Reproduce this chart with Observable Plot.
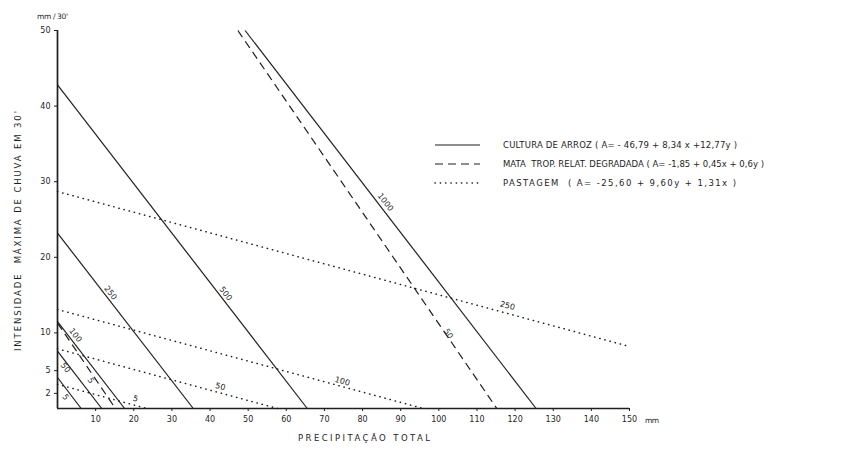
<!DOCTYPE html>
<html>
<head>
<meta charset="utf-8">
<script src="https://cdn.jsdelivr.net/npm/d3@7"></script>
<script src="https://cdn.jsdelivr.net/npm/@observablehq/plot@0.6"></script>
<style>
  html, body { margin: 0; padding: 0; background: #fff; }
  #chart { position: relative; width: 850px; height: 455px; }
</style>
</head>
<body>
<div id="chart"></div>
<script>
// ---- data ----
const xTicks = [10, 20, 30, 40, 50, 60, 70, 80, 90, 100, 110, 120, 130, 140, 150];
const yTicks = [2, 5, 10, 20, 30, 40, 50];

// Cultura de arroz (solid)
const arrozA      = [5, 50, 100, 250, 500, 1000];
const arrozStartX = [0, 0, 0, 0, 0, 49.2];
const arrozStartY = [4.1, 7.6, 11.5, 23.2, 42.8, 50];
const arrozEndX   = [6.2, 11.6, 17.6, 35.6, 65.5, 125.5];
const arrozEndY   = [0, 0, 0, 0, 0, 0];
const arrozLabelX = [2.1, 2.1, 4.7, 13.9, 44.1, 86];
const arrozLabelY = [1.5, 5.4, 9.7, 15.3, 15.2, 27.3];

// Mata trop. relat. degradada (dashed)
const mataA      = [5, 50];
const mataStartX = [0, 47.3];
const mataStartY = [11.3, 50];
const mataEndX   = [15.2, 115.2];
const mataEndY   = [0, 0];
const mataLabelX = [8.7, 102.5];
const mataLabelY = [3.7, 9.9];

// Pastagem (dotted)
const pastA      = [5, 50, 100, 250];
const pastStartX = [0, 0, 0, 0];
const pastStartY = [3.2, 7.9, 13.1, 28.7];
const pastEndX   = [23.4, 57.7, 95.9, 150];
const pastEndY   = [0, 0, 0, 8.2];
const pastLabelX = [20.5, 42.7, 74.7, 118];
const pastLabelY = [1.3, 2.9, 3.6, 13.6];

const legendNames = [
  "CULTURA DE ARROZ ( A= - 46,79 + 8,34 x +12,77y )",
  "MATA  TROP. RELAT. DEGRADADA ( A= -1,85 + 0,45x + 0,6y )",
  "PASTAGEM  ( A= -25,60 + 9,60y + 1,31x )"
];

// ---- tables ----
const seg = (A, x1, y1, x2, y2) => A.map((a, i) => ({A: a, x1: x1[i], y1: y1[i], x2: x2[i], y2: y2[i]}));
const lab = (A, x, y) => A.map((a, i) => ({A: a, x: x[i], y: y[i]}));
const arroz = seg(arrozA, arrozStartX, arrozStartY, arrozEndX, arrozEndY);
const mata  = seg(mataA, mataStartX, mataStartY, mataEndX, mataEndY);
const past  = seg(pastA, pastStartX, pastStartY, pastEndX, pastEndY);
const arrozL = lab(arrozA, arrozLabelX, arrozLabelY);
const mataL  = lab(mataA, mataLabelX, mataLabelY);
const pastL  = lab(pastA, pastLabelX, pastLabelY);

const ink = "#1e1e1e";
const font = "DejaVu Sans";

const chart = Plot.plot({
  width: 850,
  height: 455,
  marginLeft: 57,
  marginRight: 221,
  marginTop: 30,
  marginBottom: 47,
  x: {domain: [0, 150]},
  y: {domain: [0, 50]},
  style: {fontFamily: font, fontSize: "8px", color: ink, background: "#fff"},
  marks: [
    Plot.axisX({ticks: xTicks, tickSize: 3, tickPadding: 5, label: null, tickFormat: d => d, fontSize: 8}),
    Plot.axisY({ticks: yTicks, tickSize: 3, tickPadding: 4, label: null, tickFormat: d => d, fontSize: 8}),
    Plot.ruleX([0], {y1: 0, y2: 50, stroke: ink, strokeWidth: 1.7}),
    Plot.ruleY([0], {x1: 0, x2: 150, stroke: ink, strokeWidth: 1.7}),
    Plot.link(arroz, {x1: "x1", y1: "y1", x2: "x2", y2: "y2", stroke: ink, strokeWidth: 1.2}),
    Plot.link(mata, {x1: "x1", y1: "y1", x2: "x2", y2: "y2", stroke: ink, strokeWidth: 1.2, strokeDasharray: "8,5"}),
    Plot.link(past, {x1: "x1", y1: "y1", x2: "x2", y2: "y2", stroke: ink, strokeWidth: 1.5, strokeDasharray: "0.3,5", strokeLinecap: "round"}),
    Plot.text(arrozL, {x: "x", y: "y", text: d => String(d.A), rotate: 52, fontSize: 8, fill: ink}),
    Plot.text(mataL, {x: "x", y: "y", text: d => String(d.A), rotate: 58, fontSize: 8, fill: ink}),
    Plot.text(pastL, {x: "x", y: "y", text: d => String(d.A), rotate: 15, fontSize: 8, fill: ink})
  ]
});

document.getElementById("chart").appendChild(chart);

// ---- annotations: titles and legend ----
const svg = d3.select(chart);
const addText = (x, y, size, str, len, transform) => {
  const t = svg.append("text").attr("font-family", font).attr("font-size", size)
    .attr("fill", ink).attr("text-anchor", "start").text(str);
  if (transform) t.attr("transform", transform); else t.attr("x", x).attr("y", y);
  if (len) t.attr("textLength", len).attr("lengthAdjust", "spacing");
  return t;
};
addText(37, 19, 7.5, "mm / 30'", 31);
addText(645, 423, 7.5, "mm", 14);
addText(298, 441, 8.5, "PRECIPITAÇÃO TOTAL", 132);
addText(0, 0, 8.5, "INTENSIDADE  MÁXIMA DE CHUVA EM 30'", 240, "translate(21,351) rotate(-90)");

const dashes = [null, "8,5", "0.3,5"];
const widths = [1.2, 1.2, 1.5];
const legY = [145, 164, 183];
const legEnd = [737, 764, 736];
const lg = svg.append("g");
legendNames.forEach((name, i) => {
  const l = lg.append("line").attr("x1", 435).attr("x2", 480).attr("y1", legY[i]).attr("y2", legY[i])
    .attr("stroke", ink).attr("stroke-width", widths[i]).attr("stroke-linecap", i === 2 ? "round" : "butt");
  if (dashes[i]) l.attr("stroke-dasharray", dashes[i]);
  lg.append("text").attr("x", 503).attr("y", legY[i] + 3).attr("font-family", font)
    .attr("font-size", 8.5).attr("fill", ink).attr("text-anchor", "start")
    .attr("textLength", legEnd[i] - 503).attr("lengthAdjust", "spacing")
    .text(name);
});
</script>
</body>
</html>
